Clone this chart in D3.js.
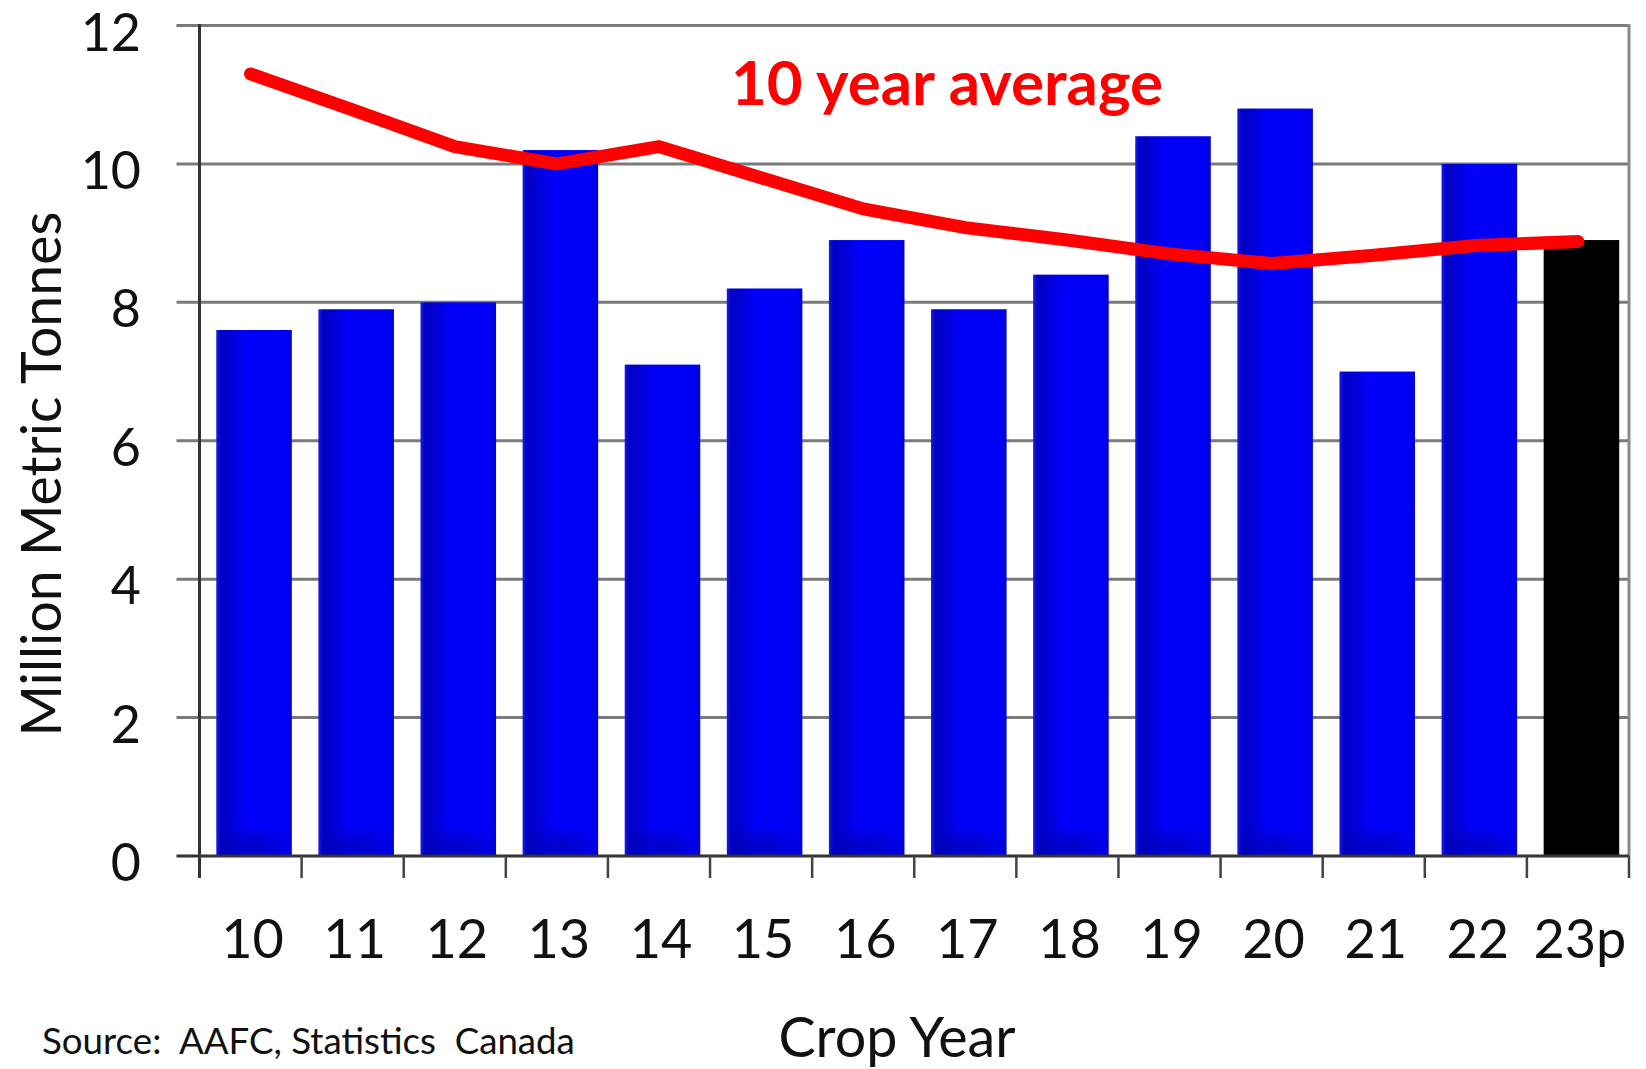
<!DOCTYPE html>
<html><head><meta charset="utf-8">
<script src="https://cdn.jsdelivr.net/npm/d3@7"></script>
<style>html,body{margin:0;padding:0;background:#fff;} svg{display:block;}</style>
</head><body>
<svg id="chart" width="1646" height="1069"></svg>
<script>
const categories = ["10","11","12","13","14","15","16","17","18","19","20","21","22","23p"];
const production = [7.6, 7.9, 8.0, 10.2, 7.1, 8.2, 8.9, 7.9, 8.4, 10.4, 10.8, 7.0, 10.0, 8.9];
const tenYearAverage = [11.3, 10.78, 10.25, 10.0, 10.25, 9.8, 9.35, 9.08, 8.9, 8.7, 8.56, 8.68, 8.82, 8.88];
const projected = [false,false,false,false,false,false,false,false,false,false,false,false,false,true];
const yTickValues = [0, 2, 4, 6, 8, 10, 12];
const yTitle = "Million Metric Tonnes";
const xTitle = "Crop Year";
const sourceNote = "Source:  AAFC, Statistics  Canada";
const lineLabel = "10 year average";

(function () {
const svg = d3.select("#chart");
const FONT = "Lato, 'Open Sans', sans-serif";
const pL = 199.5, pR = 1629, pT = 25.5, pB = 856;

const x = d3.scaleBand().domain(categories).range([pL, pR]).padding(0);
const y = d3.scaleLinear().domain([0, 12]).range([pB, pT]);
const bw = x.bandwidth();
const barW = bw * 0.74;
const barOff = (bw - barW) / 2 + 3.5;

const defs = svg.append("defs");
const g1 = defs.append("linearGradient").attr("id", "blueGrad").attr("x1", "0").attr("x2", "1").attr("y1", "0").attr("y2", "0");
[[0, "#1a1aee"], [0.06, "#0000c4"], [0.2, "#0000d6"], [0.4, "#0000fb"], [0.9, "#0000f6"], [1, "#0000dc"]]
  .forEach(([o, c]) => g1.append("stop").attr("offset", o).attr("stop-color", c));
const g2 = defs.append("radialGradient").attr("id", "shadeGrad").attr("cx", "0.5").attr("cy", "0.75").attr("r", "0.6");
[[0, "rgba(0,0,70,0.28)"], [0.6, "rgba(0,0,70,0.12)"], [1, "rgba(0,0,70,0)"]]
  .forEach(([o, c]) => g2.append("stop").attr("offset", o).attr("stop-color", c));

// gridlines + left ticks
svg.append("g").selectAll("line").data(yTickValues.filter(v => v > 0)).join("line")
  .attr("x1", pL - 23).attr("x2", pR).attr("y1", d => y(d)).attr("y2", d => y(d))
  .attr("stroke", "#7a7a7a").attr("stroke-width", 3);
// right border
svg.append("line").attr("x1", pR).attr("x2", pR).attr("y1", pT - 1.5).attr("y2", pB)
  .attr("stroke", "#8a8a8a").attr("stroke-width", 3);

// bars
const bars = svg.append("g");
bars.selectAll("rect.bar").data(categories).join("rect").attr("class", "bar")
  .attr("x", d => x(d) + barOff).attr("width", barW)
  .attr("y", (d, i) => y(production[i])).attr("height", (d, i) => y(0) - y(production[i]))
  .attr("fill", (d, i) => projected[i] ? "#000" : "url(#blueGrad)");
bars.selectAll("rect.shade").data(categories.filter((d, i) => !projected[i])).join("rect").attr("class", "shade")
  .attr("x", d => x(d) + barOff + 2).attr("width", barW - 4)
  .attr("y", y(0) - 36).attr("height", 35)
  .attr("fill", "url(#shadeGrad)");

// bottom axis
svg.append("line").attr("x1", pL - 23).attr("x2", pR).attr("y1", pB).attr("y2", pB)
  .attr("stroke", "#333").attr("stroke-width", 3);
const boundaries = categories.map(c => x(c)).concat([pR]);
svg.append("g").selectAll("line").data(boundaries).join("line")
  .attr("x1", d => d).attr("x2", d => d).attr("y1", pB).attr("y2", pB + 22)
  .attr("stroke", "#444").attr("stroke-width", 2.5);
// left axis
svg.append("line").attr("x1", pL).attr("x2", pL).attr("y1", pT - 1.5).attr("y2", pB + 22)
  .attr("stroke", "#333").attr("stroke-width", 3);

// y labels
svg.append("g").selectAll("text").data(yTickValues).join("text")
  .attr("x", 141).attr("y", d => y(d) + 5).attr("text-anchor", "end").attr("dominant-baseline", "central")
  .attr("font-family", FONT).attr("font-size", 52).attr("fill", "#111").text(d => d);

// x labels
svg.append("g").selectAll("text").data(categories).join("text")
  .attr("x", d => x(d) + bw / 2 + 2).attr("y", 958).attr("text-anchor", "middle")
  .attr("font-family", FONT).attr("font-size", 54).attr("fill", "#111").text(d => d);

// line
const line = d3.line().x((d, i) => x(categories[i]) + bw / 2).y(d => y(d));
svg.append("path").datum(tenYearAverage).attr("d", line)
  .attr("fill", "none").attr("stroke", "#ff0000").attr("stroke-width", 13)
  .attr("stroke-linejoin", "round").attr("stroke-linecap", "round");

function fit(sel, w) {
  const cur = sel.node().getComputedTextLength();
  const fs = parseFloat(sel.attr("font-size"));
  sel.attr("font-size", fs * w / cur);
}

const lbl = svg.append("text").attr("x", 731).attr("y", 105)
  .attr("font-family", FONT).attr("font-weight", "bold").attr("font-size", 55).attr("fill", "#ff0000").text(lineLabel);
fit(lbl, 432);

const yt = svg.append("text").attr("transform", "translate(61,474) rotate(-90)").attr("text-anchor", "middle")
  .attr("font-family", FONT).attr("font-size", 50).attr("fill", "#111").text(yTitle);
fit(yt, 525);

const xt = svg.append("text").attr("x", 897).attr("y", 1057).attr("text-anchor", "middle")
  .attr("font-family", FONT).attr("font-size", 48).attr("fill", "#111").text(xTitle);
fit(xt, 237);

const src = svg.append("text").attr("x", 42).attr("y", 1054).attr("xml:space", "preserve")
  .style("white-space", "pre")
  .attr("font-family", FONT).attr("font-size", 32).attr("fill", "#111").text(sourceNote);
fit(src, 533);
})();
</script>
</body></html>
